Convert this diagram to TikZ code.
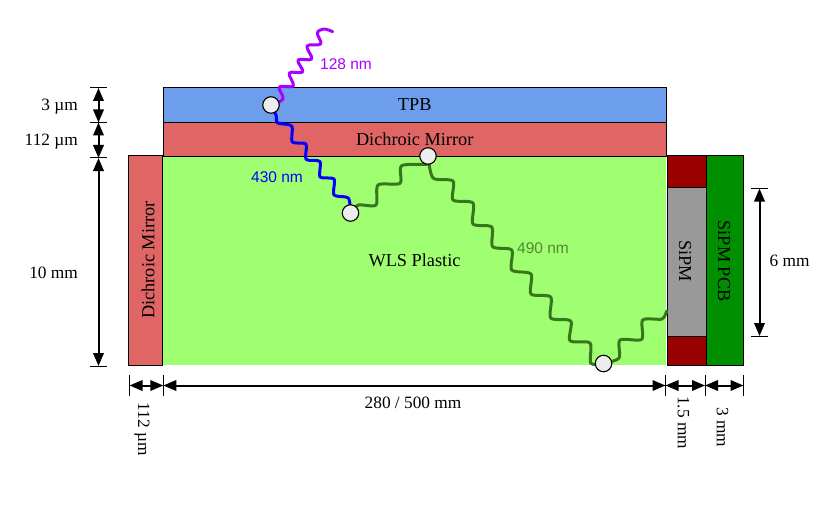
\documentclass[tikz,border=0pt]{standalone}
\usepackage{fontspec}
\setmainfont{Liberation Serif}
\newfontfamily\lblsans{Liberation Sans}
\usetikzlibrary{arrows.meta}
\pgfdeclarelayer{bg}
\pgfdeclarelayer{wave}
\pgfsetlayers{bg,wave,main}
\definecolor{tpbc}{HTML}{6D9EEB}
\definecolor{dichc}{HTML}{E06666}
\definecolor{wlsc}{HTML}{9FFF70}
\definecolor{redc}{HTML}{990000}
\definecolor{sipmc}{HTML}{999999}
\definecolor{pcbc}{HTML}{008F00}
\definecolor{purp}{HTML}{AA00FF}
\definecolor{wgreen}{HTML}{38761D}
\definecolor{lgreen}{HTML}{4F8A2C}
\tikzset{
 x=1pt,y=-1pt,
 box/.style={draw=black,line width=1pt,inner sep=0pt,sharp corners,font=\fontsize{18.3}{20}\selectfont,text=black},
 spot/.style={circle,draw=black,line width=1.1pt,fill=black!7,minimum size=16.5pt,inner sep=0pt},
 wavy/.style={line width=3pt,line cap=round,line join=round},
 dim/.style={line width=2pt,{Triangle[length=13pt,width=10.5pt]}-{Triangle[length=13pt,width=10.5pt]}},
 tick/.style={line width=1pt,black},
 dimtext/.style={font=\fontsize{17.3}{20}\selectfont,inner sep=0pt},
 wavetext/.style={font=\lblsans\fontsize{15.5}{18}\selectfont,inner sep=0pt}
}
\begin{document}
\begin{tikzpicture}
\useasboundingbox (0,0) rectangle (826,513);
% bodies
\begin{pgfonlayer}{bg}
\node[inner sep=0pt,fill=wlsc,minimum width=503pt,minimum height=209pt,font=\fontsize{18.3}{20}\selectfont] (wls) at (414.5,260.5) {WLS Plastic};
\node[box,fill=tpbc,minimum width=503pt,minimum height=35.5pt] (tpb) at (414.7,105) {TPB};
\node[box,fill=dichc,minimum width=503pt,minimum height=33.5pt] (dtop) at (414.7,139.5) {Dichroic Mirror};
\node[box,fill=dichc,minimum width=34.5pt,minimum height=209pt] (dleft) at (145.7,260.5) {};
\node[font=\fontsize{18.3}{20}\selectfont,rotate=90,inner sep=0pt] (dlefttext) at (148,260) {Dichroic Mirror};
\node[box,fill=redc,minimum width=39pt,minimum height=31pt] (rtop) at (686.5,171.5) {};
\node[box,fill=redc,minimum width=39pt,minimum height=29pt] (rbot) at (686.5,350.5) {};
\node[box,fill=sipmc,minimum width=39pt,minimum height=149pt] (sipm) at (686.5,261.5) {};
\node[font=\fontsize{18.3}{20}\selectfont,rotate=-90,inner sep=0pt] (sipmtext) at (685,261) {SiPM};
\node[box,fill=pcbc,minimum width=37.5pt,minimum height=209pt] (pcb) at (724.8,260.5) {};
\node[font=\fontsize{18.3}{20}\selectfont,rotate=-90,inner sep=0pt] (pcbtext) at (724,261) {SiPM PCB};
\end{pgfonlayer}
% interaction points
\node[spot] (c1) at (271,105) {};
\node[spot] (c2) at (350.5,213) {};
\node[spot] (c3) at (428,156) {};
\node[spot] (c4) at (603.5,363.5) {};
\coordinate (src) at (332.7,31.7);
\coordinate (snk) at (666.7,311);
% photons
\begin{pgfonlayer}{wave}
\draw[wavy,purp] plot[smooth,tension=0.6] coordinates {(src) (324,29) (317.3,33) (320.7,44) (307,46) (311.7,59) (298,60) (302.7,72) (289.3,73) (293.3,86) (279.3,87) (283,99) (c1)};
\draw[wavy,blue] plot[smooth,tension=0.45] coordinates {(c1) (276,115) (277.7,123) (291.7,126) (292.3,142) (306,144) (306,159.3) (320,161.5) (320,177) (334,179) (334,195) (348.3,198) (c2)};
\draw[wavy,wgreen] plot[smooth,tension=0.45] coordinates {(c2) (358.3,205) (376,205) (378,185) (400,183.3) (401.7,165.7) (428,164) (c3)};
\draw[wavy,wgreen] plot[smooth,tension=0.45] coordinates {(c3) (433,178) (453,181) (453,200) (473,203) (473,224) (491.7,227) (492.7,246.7) (511.7,250) (511.7,270) (531,274) (531,294) (550.7,297) (550.7,318) (570.7,321) (570,340.7) (590,343) (590.7,363.3) (c4)};
\draw[wavy,wgreen] plot[smooth,tension=0.45] coordinates {(c4) (619,358) (620,340) (641.7,339.3) (642.7,320) (662,319) (snk)};
\end{pgfonlayer}
\node[wavetext,text=purp] (l128) at (346,64) {128 nm};
\node[wavetext,text=blue] (l430) at (277,177) {430 nm};
\node[wavetext,text=lgreen] (l490) at (543,248) {490 nm};
% vertical dimensions
\coordinate (va) at (98.5,88);
\coordinate (vb) at (98.5,122.5);
\coordinate (vc) at (98.5,158);
\coordinate (vd) at (98.5,366);
\foreach \p in {va,vb,vc,vd} \draw[tick] ([xshift=-8.5pt]\p) -- ([xshift=8.5pt]\p);
\draw[dim] (va) -- (vb);
\draw[dim] (vb) -- (vc);
\draw[dim] (vc) -- (vd);
\coordinate (ve) at (759.5,188.5);
\coordinate (vf) at (759.5,336);
\foreach \p in {ve,vf} \draw[tick] ([xshift=-8.5pt]\p) -- ([xshift=8.5pt]\p);
\draw[dim] (ve) -- (vf);
% horizontal dimensions
\coordinate (ha) at (129.5,385.5);
\coordinate (hb) at (163.3,385.5);
\coordinate (hc) at (665.5,385.5);
\coordinate (hd) at (705,385.5);
\coordinate (he) at (743.5,385.5);
\foreach \p in {ha,hb,hc,hd,he} \draw[tick] ([yshift=-10.5pt]\p) -- ([yshift=10.5pt]\p);
\draw[dim] (ha) -- (hb);
\draw[dim] (hb) -- (hc);
\draw[dim] (hc) -- (hd);
\draw[dim] (hd) -- (he);
% dimension labels
\node[dimtext,anchor=east] (t3) at (78,106.5) {3 µm};
\node[dimtext,anchor=east] (t112) at (78,141.5) {112 µm};
\node[dimtext,anchor=east] (t10) at (78,273) {10 mm};
\node[dimtext] (t6) at (789.5,261) {6 mm};
\node[dimtext] (t280) at (413,402.5) {280 / 500 mm};
\node[dimtext,rotate=-90] (t112b) at (142,429) {112 µm};
\node[dimtext,rotate=-90] (t15) at (683.5,422.5) {1.5 mm};
\node[dimtext,rotate=-90] (t3b) at (722.5,427.5) {3 mm};
\end{tikzpicture}
\end{document}
